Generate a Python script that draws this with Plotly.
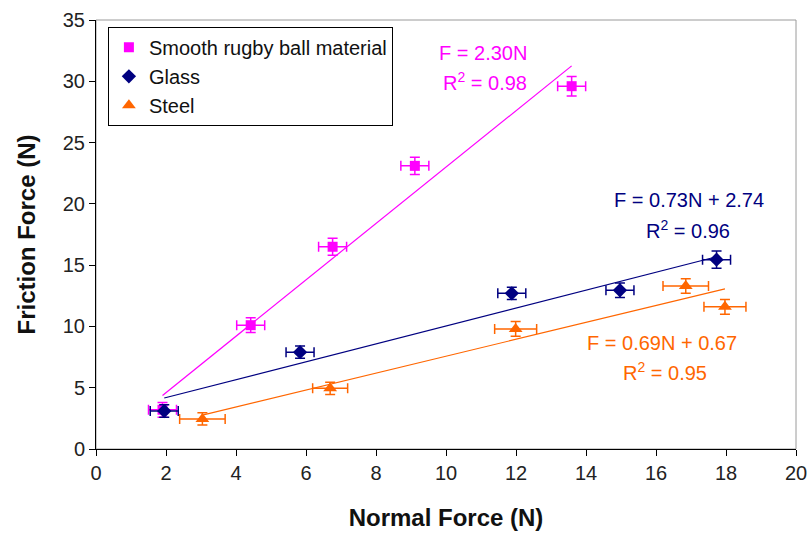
import plotly.graph_objects as go

# ---- data ----
smooth_x = [1.9, 4.42, 6.76, 9.11, 13.59]
smooth_y = [3.2, 10.1, 16.5, 23.1, 29.6]
smooth_xerr = [0.4, 0.4, 0.4, 0.4, 0.4]
smooth_yerr = [0.6, 0.6, 0.7, 0.7, 0.8]

glass_x = [1.95, 5.83, 11.88, 14.97, 17.73]
glass_y = [3.1, 7.9, 12.7, 12.95, 15.45]
glass_xerr = [0.4, 0.4, 0.4, 0.4, 0.4]
glass_yerr = [0.5, 0.5, 0.5, 0.6, 0.7]

steel_x = [3.04, 6.69, 11.99, 16.85, 17.97]
steel_y = [2.45, 4.95, 9.8, 13.3, 11.6]
steel_xerr = [0.65, 0.5, 0.6, 0.65, 0.6]
steel_yerr = [0.5, 0.5, 0.6, 0.6, 0.6]

# trendline coefficients (slope, intercept)
smooth_fit = (2.30, 0.0)
glass_fit = (0.73, 2.74)
steel_fit = (0.69, 0.67)

x_ticks = [0, 2, 4, 6, 8, 10, 12, 14, 16, 18, 20]
y_ticks = [0, 5, 10, 15, 20, 25, 30, 35]

MAG = "#FF00FF"
NAVY = "#000080"
ORG = "#FF6600"

FONT = "Liberation Sans, Arial, sans-serif"

fig = go.Figure()

def fit_line(xs, fit):
    x0, x1 = min(xs), max(xs)
    return [x0, x1], [fit[0] * x0 + fit[1], fit[0] * x1 + fit[1]]

for xs, fit, col in [(smooth_x, smooth_fit, MAG), (glass_x, glass_fit, NAVY), (steel_x, steel_fit, ORG)]:
    lx, ly = fit_line(xs, fit)
    fig.add_trace(go.Scatter(x=lx, y=ly, mode="lines", line=dict(color=col, width=1.2),
                             showlegend=False, hoverinfo="skip"))

def pts(name, xs, ys, xe, ye, col, sym, size):
    return go.Scatter(
        x=xs, y=ys, mode="markers", name=name,
        marker=dict(color=col, symbol=sym, size=size, line=dict(width=0)),
        error_x=dict(type="data", array=xe, color=col, thickness=1.5, width=5),
        error_y=dict(type="data", array=ye, color=col, thickness=1.5, width=5),
    )

fig.add_trace(pts("Smooth rugby ball material", smooth_x, smooth_y, smooth_xerr, smooth_yerr, MAG, "square", 10))
fig.add_trace(pts("Glass", glass_x, glass_y, glass_xerr, glass_yerr, NAVY, "diamond", 11))
fig.add_trace(pts("Steel", steel_x, steel_y, steel_xerr, steel_yerr, ORG, "triangle-up", 12))

ann = [
    ("F = 2.30N", 11.06, 32.3, MAG),
    ("R<sup>2</sup> = 0.98", 11.1, 30.0, MAG),
    ("F = 0.73N + 2.74", 16.95, 20.3, NAVY),
    ("R<sup>2</sup> = 0.96", 16.9, 17.9, NAVY),
    ("F = 0.69N + 0.67", 16.17, 8.65, ORG),
    ("R<sup>2</sup> = 0.95", 16.25, 6.35, ORG),
]
for t, x, y, c in ann:
    fig.add_annotation(x=x, y=y, text=t, showarrow=False, xanchor="center", yanchor="middle",
                       font=dict(family=FONT, size=20, color=c))

fig.add_shape(type="rect", xref="paper", yref="paper", x0=0, y0=0, x1=1, y1=1,
              line=dict(color="#9a9a9a", width=1), layer="below")

fig.update_layout(
    width=810, height=536,
    margin=dict(l=96, r=14, t=20, b=87),
    paper_bgcolor="white", plot_bgcolor="white",
    font=dict(family=FONT, color="#111"),
    legend=dict(x=0.017, y=0.984, xanchor="left", yanchor="top",
                bordercolor="black", borderwidth=1, bgcolor="white",
                font=dict(family=FONT, size=20, color="#111"),
                tracegroupgap=0, itemwidth=30),
    xaxis=dict(range=[0, 20], tickvals=x_ticks, showgrid=False, zeroline=False,
               automargin=False,
               showline=True, linecolor="black", linewidth=1,
               ticks="outside", ticklen=6, tickcolor="black",
               tickfont=dict(family=FONT, size=20, color="#222"),
               title=dict(text="<b>Normal Force (N)</b>", font=dict(family=FONT, size=24, color="#111"), standoff=26)),
    yaxis=dict(range=[0, 35], tickvals=y_ticks, showgrid=False, zeroline=False,
               automargin=False,
               showline=True, linecolor="black", linewidth=1,
               ticks="outside", ticklen=6, tickcolor="black",
               tickfont=dict(family=FONT, size=20, color="#222"),
               title=dict(text="<b>Friction Force (N)</b>", font=dict(family=FONT, size=24, color="#111"), standoff=20)),
)

fig.write_html("out.html")
